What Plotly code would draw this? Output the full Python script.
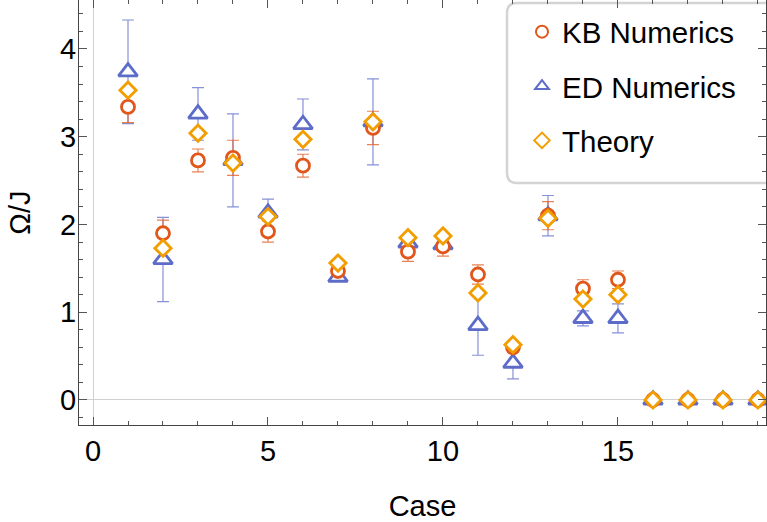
import plotly.graph_objects as go

cases = list(range(1, 20))
kb_values = [3.34, 1.90, 2.73, 2.76, 1.92, 2.67, 1.47, 3.10, 1.69, 1.75, 1.43, 0.60, 2.10, 1.27, 1.37, 0, 0, 0, 0]
kb_errors = [0.18, 0.15, 0.13, 0.20, 0.12, 0.13, 0.03, 0.19, 0.11, 0.11, 0.11, 0.04, 0.16, 0.10, 0.10, 0, 0, 0, 0]
ed_values = [3.74, 1.60, 3.26, 2.73, 2.13, 3.14, 1.40, 3.17, 1.79, 1.77, 0.85, 0.42, 2.10, 0.93, 0.93, 0, 0, 0, 0]
ed_errors = [0.59, 0.48, 0.30, 0.53, 0.16, 0.29, 0.03, 0.49, 0.04, 0.04, 0.34, 0.18, 0.23, 0.085, 0.165, 0, 0, 0, 0]
theory_values = [3.53, 1.73, 3.04, 2.70, 2.09, 2.97, 1.56, 3.17, 1.85, 1.87, 1.22, 0.63, 2.07, 1.15, 1.20, 0, 0, 0, 0]

KB_COL = "#E1571B"
ED_COL = "#5D6CC8"
TH_COL = "#F29D00"
FONT = "Liberation Sans, Arial, sans-serif"

fig = go.Figure()
fig.add_trace(go.Scatter(
    x=cases, y=ed_values, mode="markers", name="ED Numerics", legendgroup="b", legendrank=2,
    marker=dict(symbol="triangle-up", size=16.5, color="white", line=dict(width=2.8, color=ED_COL)),
    error_y=dict(type="data", array=ed_errors, visible=True, color="rgba(93,108,200,0.75)", thickness=1.2, width=6),
))
fig.add_trace(go.Scatter(
    x=cases, y=kb_values, mode="markers", name="KB Numerics", legendgroup="a", legendrank=1,
    marker=dict(symbol="circle", size=13, color="white", line=dict(width=2.8, color=KB_COL)),
    error_y=dict(type="data", array=kb_errors, visible=True, color="rgba(225,87,27,0.75)", thickness=1.2, width=6),
))
fig.add_trace(go.Scatter(
    x=cases, y=theory_values, mode="markers", name="Theory", legendgroup="c", legendrank=3,
    marker=dict(symbol="diamond", size=12.5, color="white", line=dict(width=2.8, color=TH_COL)),
))

# rounded legend frame
W, H = 687.0, 425.0
x0 = (507 - 79) / W
x1 = 1.05
y0 = (425 - 183) / H
y1 = (425 - 3) / H
rx, ry = 10 / W, 10 / H
path = (f"M {x0+rx},{y0} L {x1},{y0} L {x1},{y1} L {x0+rx},{y1} "
        f"Q {x0},{y1} {x0},{y1-ry} L {x0},{y0+ry} Q {x0},{y0} {x0+rx},{y0} Z")
fig.add_shape(type="path", xref="paper", yref="paper", path=path,
              line=dict(color="#d4d4d4", width=2.5), fillcolor="white", layer="below")

axis_common = dict(
    showline=True, linecolor="#444", linewidth=1.2, mirror="allticks",
    ticks="inside", tickcolor="#555", tickwidth=1, ticklen=8,
    showgrid=False, tickfont=dict(family=FONT, size=29, color="black"),
    zeroline=True, zerolinecolor="#d0d0d0", zerolinewidth=1,
)
fig.update_xaxes(range=[-0.4, 19.23], tick0=0, dtick=5,
                 minor=dict(ticks="inside", dtick=1, ticklen=4, tickcolor="#555"),
                 title=dict(text="Case", font=dict(family=FONT, size=29, color="black"), standoff=30),
                 **axis_common)
fig.update_yaxes(range=[-0.285, 4.558], tick0=0, dtick=1, ticklabelstandoff=-4,
                 minor=dict(ticks="inside", dtick=0.2, ticklen=4, tickcolor="#555"),
                 title=dict(text="Ω/J", font=dict(family=FONT, size=29, color="black"), standoff=20),
                 **axis_common)

fig.update_layout(
    width=767, height=522,
    margin=dict(l=79, r=1, t=0, b=97, autoexpand=False),
    plot_bgcolor="white", paper_bgcolor="white",
    showlegend=True,
    legend=dict(x=(522 - 79) / W, y=(425 - 6) / H, xanchor="left", yanchor="top",
                bgcolor="rgba(0,0,0,0)", borderwidth=0, tracegroupgap=13,
                font=dict(family=FONT, size=29.5, color="black"), itemsizing="constant"),
)
fig.write_html("out.html", config={"displayModeBar": False},
               post_script="document.body.style.margin='0px';")
